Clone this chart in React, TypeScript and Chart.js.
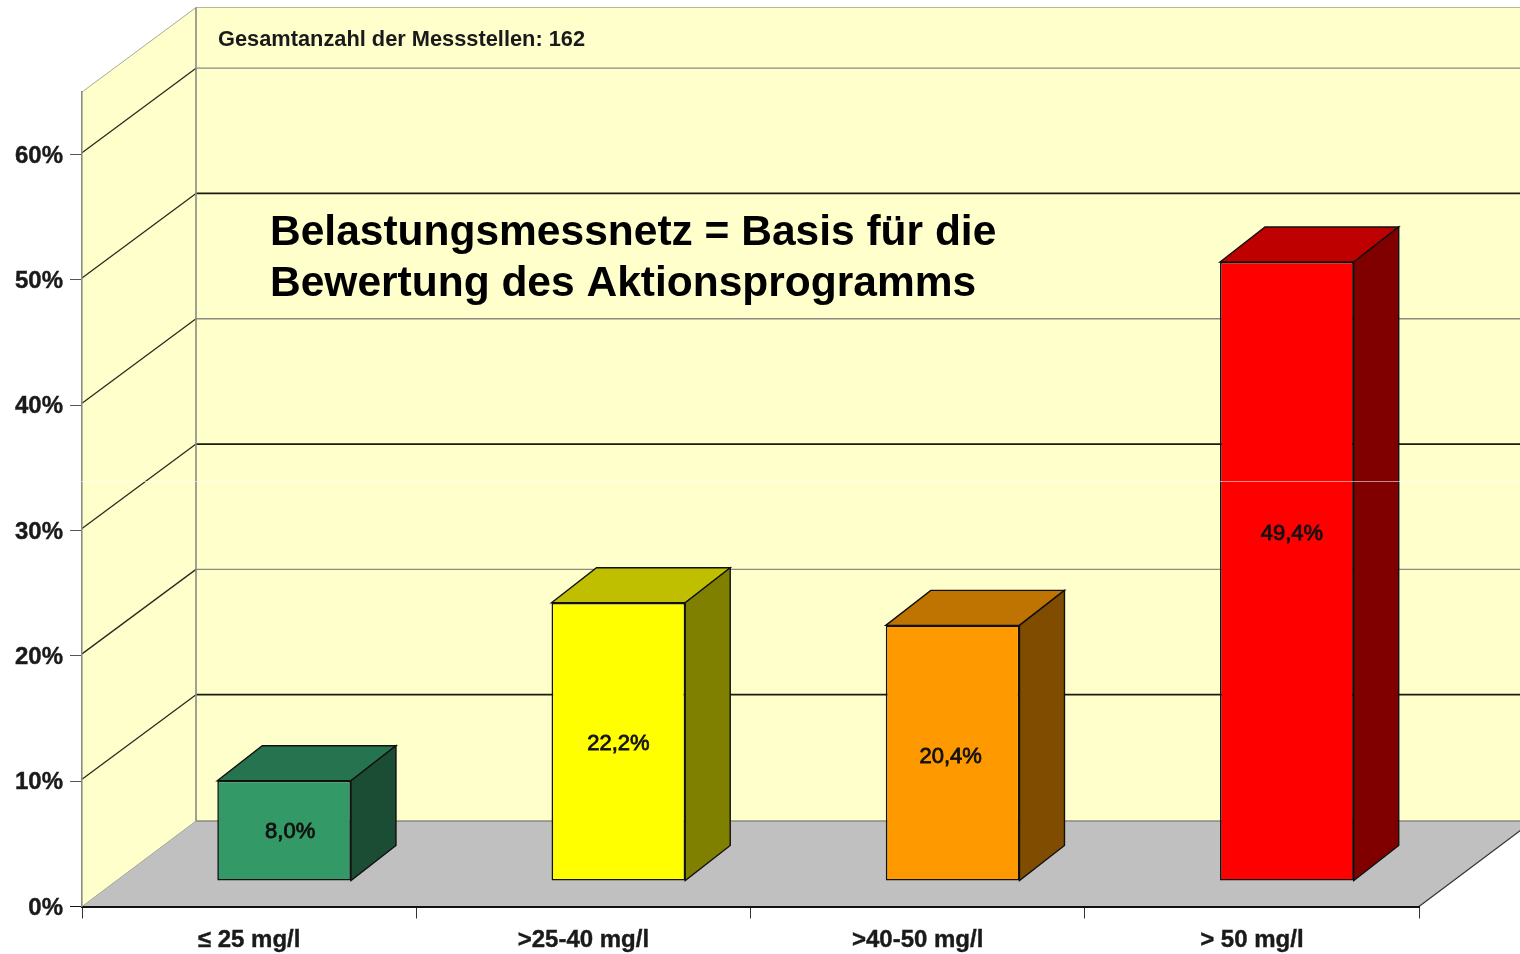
import React, { useEffect, useRef } from "react";
import { Chart, registerables } from "chart.js";

Chart.register(...registerables);

const categories = ["≤ 25 mg/l", ">25-40 mg/l", ">40-50 mg/l", "> 50 mg/l"];
const shares = [8.0, 22.2, 20.4, 49.4];
const valueLabels = ["8,0%", "22,2%", "20,4%", "49,4%"];
const yTicks = [0, 10, 20, 30, 40, 50, 60];
const totalNote = "Gesamtanzahl der Messstellen: 162";
const headline = ["Belastungsmessnetz = Basis für die", "Bewertung des Aktionsprogramms"];

const frontColors = ["#339966", "#FFFF00", "#FF9900", "#FF0000"];
const topColors = ["#267350", "#BFBF00", "#BF7300", "#BF0000"];
const sideColors = ["#1A4D33", "#808000", "#804D00", "#800000"];
const labelNudgeX = [6, 0, -2, 5];
const labelNudgeY = [1, 2, 4, -37];

const FONT = '"Liberation Sans", Arial, sans-serif';
const WALL = "#FFFFCC";
const FLOOR = "#C0C0C0";
const EDGE = "#8A8A80";
const WALL_DX = 114;
const WALL_DY = 85.5;
const BAR_DX = 45;
const BAR_DY = 35;
const SHIFT_X = 35;
const SHIFT_Y = 25.5;

function poly(ctx: CanvasRenderingContext2D, pts: number[][], fill: string | null, stroke?: string, lw = 1) {
  ctx.beginPath();
  pts.forEach((p, i) => (i ? ctx.lineTo(p[0], p[1]) : ctx.moveTo(p[0], p[1])));
  if (fill) {
    ctx.closePath();
    ctx.fillStyle = fill;
    ctx.fill();
  }
  if (stroke) {
    ctx.strokeStyle = stroke;
    ctx.lineWidth = lw;
    ctx.stroke();
  }
}

const box3d = {
  id: "box3d",
  beforeDraw(chart: any) {
    const ctx: CanvasRenderingContext2D = chart.ctx;
    const { left, right, bottom, top } = chart.chartArea;
    const y = chart.scales.y;
    ctx.save();
    poly(ctx, [[left + WALL_DX, top - WALL_DY + 1], [1520, top - WALL_DY + 1], [1520, bottom - WALL_DY], [left + WALL_DX, bottom - WALL_DY]], WALL);
    poly(ctx, [[left, bottom], [left, top], [left + WALL_DX, top - WALL_DY + 1], [left + WALL_DX, bottom - WALL_DY]], WALL);
    poly(ctx, [[left, bottom], [left + WALL_DX, bottom - WALL_DY], [right + WALL_DX, bottom - WALL_DY], [right, bottom]], FLOOR);

    yTicks.slice(1).forEach((v, i) => {
      const py = y.getPixelForValue(v);
      const dark = i % 2 === 0;
      poly(ctx, [[left, py - 2], [left + WALL_DX, py - WALL_DY - 1]], null, "#2A2A20", 1.3);
      poly(ctx, [[left + WALL_DX, py - WALL_DY - 1], [1520, py - WALL_DY - 1]], null, dark ? "#1A1A10" : EDGE, dark ? 1.8 : 1.4);
    });

    poly(ctx, [[left + WALL_DX, top - WALL_DY + 1], [1520, top - WALL_DY + 1]], null, "#B5B5A0", 1);
    poly(ctx, [[left, top], [left + WALL_DX, top - WALL_DY + 1]], null, "#A8A898", 1);
    poly(ctx, [[left + WALL_DX, top - WALL_DY + 1], [left + WALL_DX, bottom - WALL_DY]], null, EDGE, 1.6);
    poly(ctx, [[left + WALL_DX, bottom - WALL_DY], [1520, bottom - WALL_DY]], null, EDGE, 1.4);
    poly(ctx, [[left, bottom], [left + WALL_DX, bottom - WALL_DY]], null, "#A8A898", 1);
    poly(ctx, [[right, bottom], [right + WALL_DX, bottom - WALL_DY]], null, "#333333", 1.2);
    ctx.restore();
  },
  beforeDatasetsDraw(chart: any) {
    const ctx: CanvasRenderingContext2D = chart.ctx;
    ctx.save();
    ctx.translate(SHIFT_X, SHIFT_Y * -1);
    chart.getDatasetMeta(0).data.forEach((bar: any, i: number) => {
      const l = bar.x - bar.width / 2;
      const r = bar.x + bar.width / 2;
      const t = bar.y;
      const b = bar.base;
      poly(ctx, [[l, t], [l + BAR_DX, t - BAR_DY], [r + BAR_DX, t - BAR_DY], [r, t]], topColors[i], "#111111", 1.4);
      poly(ctx, [[r, t], [r + BAR_DX, t - BAR_DY], [r + BAR_DX, b - BAR_DY], [r, b]], sideColors[i], "#111111", 1.4);
    });
  },
  afterDatasetsDraw(chart: any) {
    const ctx: CanvasRenderingContext2D = chart.ctx;
    ctx.restore();
    ctx.save();
    ctx.textAlign = "center";
    ctx.textBaseline = "middle";
    ctx.fillStyle = "#111111";
    ctx.font = `22px ${FONT}`;
    chart.getDatasetMeta(0).data.forEach((bar: any, i: number) => {
      const x = bar.x + SHIFT_X + labelNudgeX[i];
      const y = (bar.y + bar.base) / 2 - SHIFT_Y + labelNudgeY[i];
      ctx.fillText(valueLabels[i], x, y);
      ctx.strokeStyle = "#111111";
      ctx.lineWidth = 0.8;
      ctx.strokeText(valueLabels[i], x, y);
    });
    ctx.restore();
  },
  afterDraw(chart: any) {
    const ctx: CanvasRenderingContext2D = chart.ctx;
    ctx.save();
    ctx.textAlign = "left";
    ctx.textBaseline = "middle";
    ctx.fillStyle = "#1A1A1A";
    ctx.font = `bold 21.8px ${FONT}`;
    ctx.fillText(totalNote, 218, 40);
    ctx.fillStyle = "#000000";
    ctx.font = `bold 42.5px ${FONT}`;
    ctx.fillText(headline[0], 270, 233);
    ctx.fillText(headline[1], 270, 284);
    ctx.strokeStyle = "rgba(255,255,255,0.55)";
    ctx.lineWidth = 1;
    ctx.beginPath();
    ctx.moveTo(0, 481.5);
    ctx.lineTo(1520, 481.5);
    ctx.stroke();
    ctx.restore();
  },
};

export default function App() {
  const ref = useRef<HTMLCanvasElement | null>(null);
  useEffect(() => {
    const chart = new Chart(ref.current as HTMLCanvasElement, {
      type: "bar",
      plugins: [box3d],
      data: {
        labels: categories,
        datasets: [
          {
            data: shares,
            backgroundColor: frontColors,
            borderColor: "#111111",
            borderWidth: 1.6,
            borderSkipped: false,
            categoryPercentage: 1,
            barPercentage: 0.4,
            clip: false,
          } as any,
        ],
      },
      options: {
        animation: false,
        responsive: false,
        layout: { padding: { top: 92, right: 101, left: 0, bottom: 0 } },
        plugins: { legend: { display: false }, tooltip: { enabled: false }, title: { display: false } },
        scales: {
          x: {
            type: "category",
            afterFit: (s: any) => {
              s.height = 47.5;
            },
            border: { color: "#111111", width: 2 },
            grid: { drawOnChartArea: false, drawTicks: true, tickLength: 12, color: "#333333", offset: true },
            ticks: {
              color: "#1A1A1A",
              padding: 7.5,
              maxRotation: 0,
              textStrokeColor: "#1A1A1A",
              textStrokeWidth: 0.4,
              font: { family: FONT, size: 24, weight: "bold" },
            },
          },
          y: {
            type: "linear",
            min: 0,
            max: 65,
            afterFit: (s: any) => {
              s.width = 82;
            },
            afterBuildTicks: (s: any) => {
              s.ticks = yTicks.map((value) => ({ value }));
            },
            border: { color: EDGE, width: 1.6 },
            grid: {
              drawOnChartArea: false,
              drawTicks: true,
              tickLength: 12,
              color: (c: any) => (c.tick && c.tick.value === 0 ? "#111111" : "#555555"),
            },
            ticks: {
              color: "#1A1A1A",
              padding: 7,
              labelOffset: 1.5,
              textStrokeColor: "#1A1A1A",
              textStrokeWidth: 0.4,
              font: { family: FONT, size: 24, weight: "bold" },
              callback: (v: any) => `${v}%`,
            },
          },
        },
      },
    } as any);
    return () => chart.destroy();
  }, []);
  return (
    <canvas
      ref={ref}
      width={1520}
      height={954}
      style={{ position: "absolute", left: 0, top: 0, width: 1520, height: 954, filter: "blur(0.55px)" }}
    />
  );
}
